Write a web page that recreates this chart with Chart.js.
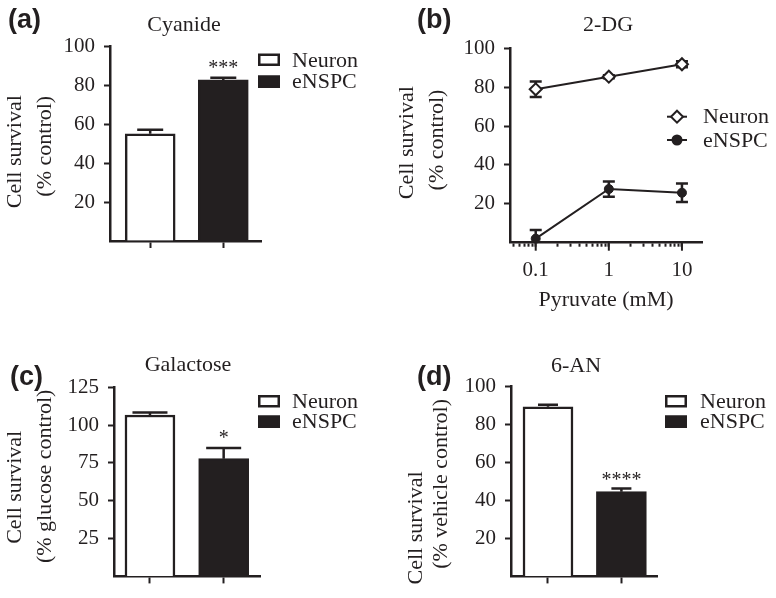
<!DOCTYPE html>
<html><head><meta charset="utf-8">
<script src="https://cdn.jsdelivr.net/npm/chart.js@4.4.1/dist/chart.umd.min.js"></script>
<style>
html,body{margin:0;padding:0;background:#fff;}
#wrap{position:relative;width:776px;height:598px;overflow:hidden;background:#fff;}
#wrap canvas{position:absolute;left:0;top:0;}
</style></head><body>
<div id="wrap">
<canvas id="pa" width="776" height="598"></canvas>
<canvas id="pb" width="776" height="598"></canvas>
<canvas id="pc" width="776" height="598"></canvas>
<canvas id="pd" width="776" height="598"></canvas>
</div>
<script>
// ---------- data ----------
const categories = ['Neuron', 'eNSPC'];
const categoryX = [0, 1];

const cyanideMean = [55.0, 82.6];
const cyanideSem = [2.1, 1.1];

const pyruvateMM = [0.1, 1, 10];
const pyruvateTickLabels = ['0.1', '1', '10'];
const dgNeuronMean = [78.9, 85.4, 91.8];
const dgNeuronSem = [4.0, 0.8, 1.5];
const dgEnspcMean = [2.1, 27.6, 25.7];
const dgEnspcSem = [4.4, 3.9, 4.7];

const galactoseMean = [106.7, 77.8];
const galactoseSem = [1.6, 7.1];

const anMean = [89.1, 44.5];
const anSem = [1.0, 1.7];

// ---------- style ----------
const INK = '#231f20';
const SERIF = '"Liberation Serif", "Times New Roman", serif';
const SANS = '"Liberation Sans", Arial, sans-serif';
Chart.defaults.font.family = SERIF;
Chart.defaults.color = INK;

// shift a rotated title line along the axis by padding it with spaces
function nudge(text, after, before) { return ' '.repeat(before || 0) + text + ' '.repeat(after || 0); }

// error bars drawn through the chart's own y scale
const errorBars = {
  id: 'errorBars',
  draw(chart, o) {
    const ctx = chart.ctx, ys = chart.scales.y;
    (o.sets || []).forEach(s => {
      const meta = chart.getDatasetMeta(s.dataset);
      const ds = chart.data.datasets[s.dataset];
      ctx.save();
      ctx.strokeStyle = INK; ctx.lineWidth = s.width || 2.5; ctx.lineCap = 'butt';
      meta.data.forEach((el, i) => {
        const v = ds.data[i].y, e = s.err[i], x = el.x;
        const yTop = ys.getPixelForValue(v + e);
        const lowV = s.both ? Math.max(v - e, ys.min) : v;
        const yBot = ys.getPixelForValue(lowV);
        ctx.beginPath();
        ctx.moveTo(x, yTop); ctx.lineTo(x, yBot);
        ctx.moveTo(x - s.cap / 2, yTop); ctx.lineTo(x + s.cap / 2, yTop);
        if (s.both && v - e >= ys.min) { ctx.moveTo(x - s.cap / 2, yBot); ctx.lineTo(x + s.cap / 2, yBot); }
        ctx.stroke();
      });
      ctx.restore();
    });
  },
  beforeDatasetsDraw(chart, args, o) { if (o.phase === 'before') this.draw(chart, o); },
  afterDatasetsDraw(chart, args, o) { if (o.phase !== 'before') this.draw(chart, o); }
};

function drawMarker(ctx, style, x, y, r, fill) {
  ctx.beginPath();
  if (style === 'rectRot') {
    ctx.moveTo(x, y - r); ctx.lineTo(x + r, y); ctx.lineTo(x, y + r); ctx.lineTo(x - r, y); ctx.closePath();
  } else {
    ctx.arc(x, y, r, 0, Math.PI * 2);
  }
  ctx.fillStyle = fill; ctx.fill(); ctx.lineWidth = 2; ctx.strokeStyle = INK; ctx.stroke();
}

// panel letter, title, legend, significance stars, major log ticks
const decor = {
  id: 'decor',
  afterDraw(chart, args, o) {
    const ctx = chart.ctx;
    ctx.save();
    ctx.fillStyle = INK; ctx.strokeStyle = INK; ctx.textBaseline = 'alphabetic';
    if (o.panel) {
      ctx.font = 'bold 27px ' + SANS; ctx.textAlign = 'left';
      ctx.fillText(o.panel.text, o.panel.x, o.panel.y);
    }
    if (o.title) {
      ctx.font = '22px ' + SERIF; ctx.textAlign = 'center';
      ctx.fillText(o.title.text, o.title.x, o.title.y);
    }
    if (o.legend) {
      const L = o.legend;
      ctx.font = '22px ' + SERIF; ctx.textAlign = 'left';
      L.rows.forEach((r, i) => {
        if (L.kind === 'box') {
          ctx.fillStyle = r.fill; ctx.fillRect(L.x, r.top, L.w, L.h);
          ctx.lineWidth = 2.5; ctx.strokeStyle = INK;
          ctx.strokeRect(L.x + 1.25, r.top + 1.25, L.w - 2.5, L.h - 2.5);
        } else {
          ctx.lineWidth = 2; ctx.strokeStyle = INK;
          ctx.beginPath(); ctx.moveTo(L.x, r.mid); ctx.lineTo(L.x + L.w, r.mid); ctx.stroke();
          drawMarker(ctx, r.marker, L.x + L.w / 2, r.mid, r.radius, r.fill);
        }
        ctx.fillStyle = INK;
        ctx.fillText(r.text, L.textX, r.base);
      });
    }
    if (o.stars) {
      const S = o.stars, ys = chart.scales.y;
      const el = chart.getDatasetMeta(0).data[S.index];
      ctx.font = S.size + 'px ' + SERIF; ctx.textAlign = 'center';
      ctx.fillText(S.text, el.x, ys.getPixelForValue(S.value) - S.gap);
    }
    if (o.majorTicks) {
      const xs = chart.scales.x;
      ctx.lineWidth = 2; ctx.strokeStyle = INK;
      o.majorTicks.forEach(v => {
        const px = xs.getPixelForValue(v);
        ctx.beginPath(); ctx.moveTo(px, xs.top); ctx.lineTo(px, xs.top + 8); ctx.stroke();
      });
    }
    ctx.restore();
  }
};

function padFor(area, xHeight, titleLeft) {
  return { left: titleLeft, top: area.top, right: 776 - area.right, bottom: 598 - area.bottom - xHeight };
}

function yAxis(max, step, lines, lineHeight, width) {
  return {
    type: 'linear', min: 0, max: max,
    afterFit: s => { s.width = width; },
    ticks: { stepSize: step, padding: 9, font: { size: 21 }, color: INK,
             callback: v => (v === 0 ? '' : String(v)) },
    grid: { drawOnChartArea: false, drawTicks: true, tickLength: 6, tickWidth: 2, offset: false,
            tickColor: c => (c.tick && c.tick.value === 0 ? 'rgba(0,0,0,0)' : INK) },
    border: { display: true, color: INK, width: 2.5 },
    title: { display: true, text: lines, color: INK, padding: 0,
             font: { size: 22, lineHeight: lineHeight } }
  };
}

function barPanel(id, area, titleLeft, xMin, xMax, means, sems, yMax, yStep, yLines, yLH, dec, cap) {
  const yWidth = area.left - titleLeft;
  const xHeight = 12;
  return new Chart(document.getElementById(id), {
    type: 'bar',
    data: {
      datasets: [{
        data: categoryX.map((x, i) => ({ x: x, y: means[i] })),
        backgroundColor: ['#ffffff', INK],
        borderColor: INK, borderWidth: 2.5, borderSkipped: 'start',
        barThickness: 50
      }]
    },
    options: {
      responsive: false, animation: false, events: [],
      devicePixelRatio: 1,
      layout: { padding: padFor(area, xHeight, titleLeft) },
      scales: {
        x: {
          type: 'linear', min: xMin, max: xMax, offset: false,
          afterBuildTicks: s => { s.ticks = categoryX.map(v => ({ value: v })); },
          afterFit: s => { s.height = xHeight; },
          ticks: { display: false },
          grid: { drawOnChartArea: false, drawTicks: true, offset: false,
                  tickLength: 7, tickWidth: 2, tickColor: INK },
          border: { display: true, color: INK, width: 2.5 }
        },
        y: yAxis(yMax, yStep, yLines, yLH, yWidth)
      },
      plugins: {
        legend: { display: false }, tooltip: { enabled: false },
        errorBars: { phase: 'after', sets: [{ dataset: 0, err: sems, cap: cap, width: 2.5 }] },
        decor: dec
      }
    },
    plugins: [errorBars, decor]
  });
}

// (a) Cyanide
const areaA = { left: 110, right: 261, top: 46, bottom: 241 };
barPanel('pa', areaA, 0, -0.55, 1.516, cyanideMean, cyanideSem, 100, 20,
  [nudge('Cell survival', 3), nudge('(% control)', 1)], 1.36, {
    panel: { text: '(a)', x: 8, y: 28 },
    title: { text: 'Cyanide', x: 184, y: 31 },
    legend: { kind: 'box', x: 258, w: 22, h: 12.5, textX: 292,
      rows: [{ top: 53.5, base: 66.5, fill: '#ffffff', text: categories[0] },
             { top: 75.5, base: 88, fill: INK, text: categories[1] }] },
    stars: { text: '***', index: 1, value: cyanideMean[1] + cyanideSem[1], gap: 3.5, size: 20 }
  }, 26);

// (c) Galactose
const areaC = { left: 114, right: 260, top: 387.3, bottom: 581.7 };
barPanel('pc', areaC, 0, -0.488, 1.493, galactoseMean, galactoseSem, 125, 25,
  [nudge('Cell survival', 2), nudge('(% glucose control)', 0, 2)], 1.36, {
    panel: { text: '(c)', x: 10, y: 385 },
    title: { text: 'Galactose', x: 188, y: 371 },
    legend: { kind: 'box', x: 258, w: 22, h: 12.5, textX: 292,
      rows: [{ top: 395, base: 408, fill: '#ffffff', text: categories[0] },
             { top: 415.5, base: 428, fill: INK, text: categories[1] }] },
    stars: { text: '*', index: 1, value: galactoseMean[1] + galactoseSem[1], gap: 4, size: 20 }
  }, 35);

// (d) 6-AN
const areaD = { left: 511, right: 657, top: 386, bottom: 580.7 };
barPanel('pd', areaD, 404, -0.504, 1.485, anMean, anSem, 100, 20,
  [nudge('Cell survival', 17), nudge('(% vehicle control)', 1)], 1.14, {
    panel: { text: '(d)', x: 417, y: 385 },
    title: { text: '6-AN', x: 576, y: 371.5 },
    legend: { kind: 'box', x: 665, w: 22, h: 12.5, textX: 700,
      rows: [{ top: 395, base: 408, fill: '#ffffff', text: categories[0] },
             { top: 415.5, base: 428, fill: INK, text: categories[1] }] },
    stars: { text: '****', index: 1, value: anMean[1] + anSem[1], gap: 2.5, size: 20 }
  }, 20);

// (b) 2-DG, log pyruvate axis
const areaB = { left: 510, right: 702, top: 48.3, bottom: 242.7 };
const bTitleLeft = 392.7;
const bXHeight = 71;
const pyruvateMinor = [];
[0.01, 0.1, 1].forEach(dec => { for (let n = 2; n <= 9; n++) pyruvateMinor.push(n * dec); });
const xMinB = 0.0445, xMaxB = 18.8;

new Chart(document.getElementById('pb'), {
  type: 'line',
  data: {
    datasets: [
      { label: categories[0], data: pyruvateMM.map((x, i) => ({ x: x, y: dgNeuronMean[i] })),
        borderColor: INK, borderWidth: 2, pointStyle: 'rectRot', pointRadius: 6,
        pointBackgroundColor: '#ffffff', pointBorderColor: INK, pointBorderWidth: 2, tension: 0, clip: false },
      { label: categories[1], data: pyruvateMM.map((x, i) => ({ x: x, y: dgEnspcMean[i] })),
        borderColor: INK, borderWidth: 2, pointStyle: 'circle', pointRadius: 4.5,
        pointBackgroundColor: INK, pointBorderColor: INK, pointBorderWidth: 1, tension: 0, clip: false }
    ]
  },
  options: {
    responsive: false, animation: false, events: [], devicePixelRatio: 1,
    layout: { padding: padFor(areaB, bXHeight, bTitleLeft) },
    scales: {
      x: {
        type: 'logarithmic', min: xMinB, max: xMaxB,
        afterBuildTicks: s => {
          const vals = pyruvateMinor.concat(pyruvateMM).filter(v => v >= xMinB && v <= xMaxB).sort((a, b) => a - b);
          s.ticks = vals.map(v => ({ value: v }));
        },
        afterFit: s => { s.height = bXHeight; },
        ticks: { autoSkip: false, maxRotation: 0, padding: 11, font: { size: 21 }, color: INK,
                 callback: v => { const k = pyruvateMM.indexOf(v); return k >= 0 ? pyruvateTickLabels[k] : ''; } },
        grid: { drawOnChartArea: false, drawTicks: true, tickLength: 4, tickWidth: 2, tickColor: INK },
        border: { display: true, color: INK, width: 2.5 },
        title: { display: true, text: 'Pyruvate (mM)', color: INK, padding: 0, font: { size: 22, lineHeight: 1.2 } }
      },
      y: yAxis(100, 20, [nudge('Cell survival', 0, 1), nudge('(% control)', 0, 2)], 1.36, areaB.left - bTitleLeft)
    },
    plugins: {
      legend: { display: false }, tooltip: { enabled: false },
      errorBars: { phase: 'before', sets: [
        { dataset: 0, err: dgNeuronSem, cap: 12, width: 2.5, both: true },
        { dataset: 1, err: dgEnspcSem, cap: 12, width: 2.5, both: true }] },
      decor: {
        panel: { text: '(b)', x: 417, y: 28 },
        title: { text: '2-DG', x: 608, y: 31 },
        legend: { kind: 'line', x: 667, w: 20, textX: 703,
          rows: [{ mid: 116.7, base: 123, marker: 'rectRot', radius: 6, fill: '#ffffff', text: categories[0] },
                 { mid: 140, base: 146.5, marker: 'circle', radius: 4.5, fill: INK, text: categories[1] }] },
        majorTicks: pyruvateMM
      }
    }
  },
  plugins: [errorBars, decor]
});
</script>
</body></html>
